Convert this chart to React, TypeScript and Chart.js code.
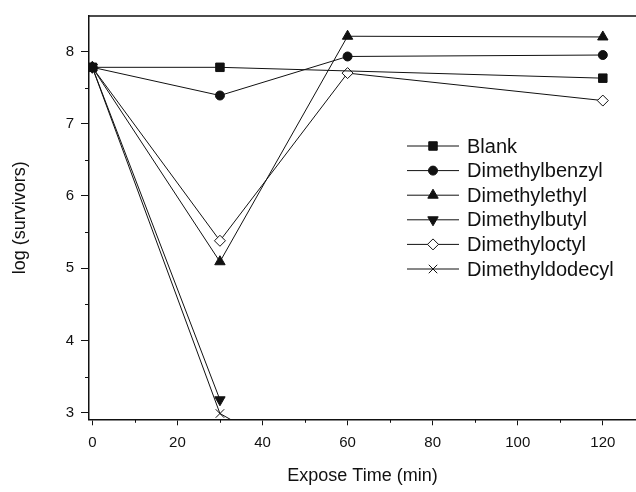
import React, { useEffect, useRef } from "react";
import { Chart, registerables } from "chart.js";
import { drawPoint } from "chart.js/helpers";

Chart.register(...registerables);

// ---- data ----
const times = [0, 30, 60, 120];
const blankTimes = [0, 30, 120];
const blank = [7.78, 7.78, 7.63];
const benzyl = [7.78, 7.39, 7.93, 7.95];
const ethyl = [7.78, 5.09, 8.21, 8.2];
const butyl = [7.78, 3.18];
const octyl = [7.78, 5.38, 7.7, 7.32];
const dodecyl = [7.78, 2.99, 2.0];
const seriesNames = [
  "Blank",
  "Dimethylbenzyl",
  "Dimethylethyl",
  "Dimethylbutyl",
  "Dimethyloctyl",
  "Dimethyldodecyl",
];
const xMajorTicks = [0, 20, 40, 60, 80, 100, 120];
const xMinorTicks = [10, 30, 50, 70, 90, 110];
const yMajorTicks = [3, 4, 5, 6, 7, 8];
const yMinorTicks = [3.5, 4.5, 5.5, 6.5, 7.5];
const xTitle = "Expose Time (min)";
const yTitle = "log (survivors)";

const FONT = "'Liberation Sans', Arial, Helvetica, sans-serif";

const seriesValues = [blank, benzyl, ethyl, butyl, octyl, dodecyl];
const seriesTimes = [blankTimes, times, times, times, times, times];
const seriesStyles = [
  { pointStyle: "rect", radius: 6, rotation: 0, bg: "#111" },
  { pointStyle: "circle", radius: 4.5, rotation: 0, bg: "#111" },
  { pointStyle: "triangle", radius: 6, rotation: 0, bg: "#111" },
  { pointStyle: "triangle", radius: 6, rotation: 180, bg: "#111" },
  { pointStyle: "rectRot", radius: 5.5, rotation: 0, bg: "#fff" },
  { pointStyle: "crossRot", radius: 6, rotation: 0, bg: "#111" },
];

const extrasPlugin = {
  id: "extras",
  afterDraw(chart: any) {
    const { ctx, chartArea } = chart;
    const xs = chart.scales.x;
    const ys = chart.scales.y;
    ctx.save();
    ctx.strokeStyle = "#111";
    // top border
    ctx.lineWidth = 1.5;
    ctx.beginPath();
    ctx.moveTo(chartArea.left, chartArea.top);
    ctx.lineTo(chartArea.right, chartArea.top);
    ctx.stroke();
    // minor ticks
    ctx.lineWidth = 1;
    ctx.beginPath();
    xMinorTicks.forEach((v) => {
      const px = Math.round(xs.getPixelForValue(v)) + 0.5;
      ctx.moveTo(px, chartArea.bottom);
      ctx.lineTo(px, chartArea.bottom + 3.5);
    });
    yMinorTicks.forEach((v) => {
      const py = Math.round(ys.getPixelForValue(v)) + 0.5;
      ctx.moveTo(chartArea.left, py);
      ctx.lineTo(chartArea.left - 4, py);
    });
    ctx.stroke();

    // legend
    const lx0 = 407;
    const lx1 = 459;
    const ly0 = 146;
    const gap = 24.6;
    ctx.font = `20px ${FONT}`;
    ctx.textBaseline = "middle";
    ctx.textAlign = "left";
    chart.data.datasets.forEach((ds: any, i: number) => {
      const y = ly0 + i * gap;
      const st = seriesStyles[i];
      ctx.strokeStyle = "#111";
      ctx.lineWidth = 1;
      ctx.beginPath();
      ctx.moveTo(lx0, y);
      ctx.lineTo(lx1, y);
      ctx.stroke();
      ctx.fillStyle = st.bg;
      ctx.strokeStyle = "#111";
      ctx.lineWidth = 1;
      drawPoint(
        ctx,
        { pointStyle: st.pointStyle, radius: st.radius, rotation: st.rotation, borderWidth: 1 } as any,
        (lx0 + lx1) / 2,
        y
      );
      ctx.fillStyle = "#111";
      ctx.fillText(ds.label, 467, y + 1);
    });
    ctx.restore();
  },
};

export default function App() {
  const ref = useRef<HTMLCanvasElement | null>(null);
  useEffect(() => {
    document.body.style.margin = "0";
    const canvas = ref.current;
    if (!canvas) return;
    const datasets = seriesValues.map((vals, i) => ({
      label: seriesNames[i],
      data: vals.map((v, j) => ({ x: seriesTimes[i][j], y: v })),
      borderColor: "#111",
      borderWidth: 1,
      backgroundColor: seriesStyles[i].bg,
      pointStyle: seriesStyles[i].pointStyle,
      pointRadius: seriesStyles[i].radius,
      pointRotation: seriesStyles[i].rotation,
      pointBackgroundColor: seriesStyles[i].bg,
      pointBorderColor: "#111",
      pointBorderWidth: 1,
      tension: 0,
      fill: false,
    }));
    const chart = new Chart(canvas, {
      type: "line",
      data: { datasets },
      options: {
        animation: false,
        responsive: false,
        events: [],
        layout: { autoPadding: false, padding: { top: 13.3, left: 0, right: 0, bottom: 0 } },
        plugins: { legend: { display: false }, tooltip: { enabled: false } },
        scales: {
          x: {
            type: "linear",
            min: -0.78,
            max: 127.8,
            afterBuildTicks: (s: any) => {
              s.ticks = xMajorTicks.map((v) => ({ value: v }));
            },
            afterFit: (s: any) => {
              s.height = 72.7;
            },
            grid: {
              display: true,
              drawOnChartArea: false,
              drawTicks: true,
              tickLength: 6,
              color: "#111",
              lineWidth: 1,
            },
            border: { display: true, color: "#111", width: 1.5 },
            ticks: {
              color: "#111",
              padding: 9,
              maxRotation: 0,
              autoSkip: false,
              font: { family: FONT, size: 15 },
            },
            title: {
              display: true,
              text: xTitle,
              color: "#111",
              font: { family: FONT, size: 18 },
              padding: { top: 0, bottom: 5 },
            },
          },
          y: {
            type: "linear",
            min: 2.91,
            max: 8.49,
            afterBuildTicks: (s: any) => {
              s.ticks = yMajorTicks.map((v) => ({ value: v }));
            },
            afterFit: (s: any) => {
              s.width = 89;
            },
            grid: {
              display: true,
              drawOnChartArea: false,
              drawTicks: true,
              tickLength: 8,
              color: "#111",
              lineWidth: 1,
            },
            border: { display: true, color: "#111", width: 1.5 },
            ticks: {
              color: "#111",
              padding: 7,
              autoSkip: false,
              font: { family: FONT, size: 15 },
            },
            title: {
              display: true,
              text: yTitle,
              color: "#111",
              font: { family: FONT, size: 18 },
              padding: { top: 9, bottom: 0 },
            },
          },
        },
      },
      plugins: [extrasPlugin],
    });
    return () => chart.destroy();
  }, []);
  return (
    <div style={{ width: 636, height: 492 }}>
      <canvas ref={ref} width={636} height={492} style={{ display: "block" }} />
    </div>
  );
}
